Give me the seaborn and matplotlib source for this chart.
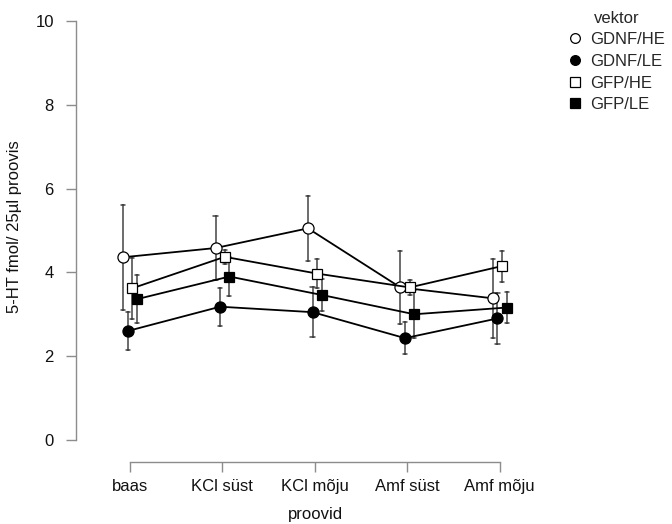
import matplotlib
matplotlib.use("Agg")
import matplotlib.pyplot as plt
from matplotlib.lines import Line2D
import seaborn as sns
import pandas as pd

proovid = ["baas", "KCl süst", "KCl mõju", "Amf süst", "Amf mõju"]
vektor = ["GDNF/HE", "GDNF/LE", "GFP/HE", "GFP/LE"]

# group means
gdnf_he = [4.36, 4.58, 5.05, 3.64, 3.38]
gdnf_le = [2.60, 3.18, 3.05, 2.43, 2.90]
gfp_he = [3.62, 4.37, 3.97, 3.64, 4.15]
gfp_le = [3.36, 3.90, 3.46, 3.00, 3.16]

# half length of the error bars
gdnf_he_err = [1.25, 0.77, 0.78, 0.88, 0.95]
gdnf_le_err = [0.46, 0.45, 0.60, 0.38, 0.60]
gfp_he_err = [0.73, 0.17, 0.35, 0.18, 0.37]
gfp_le_err = [0.57, 0.46, 0.38, 0.57, 0.38]

means = {"GDNF/HE": gdnf_he, "GDNF/LE": gdnf_le, "GFP/HE": gfp_he, "GFP/LE": gfp_le}
errs = {"GDNF/HE": gdnf_he_err, "GDNF/LE": gdnf_le_err, "GFP/HE": gfp_he_err, "GFP/LE": gfp_le_err}
filled = {"GDNF/HE": "white", "GDNF/LE": "black", "GFP/HE": "white", "GFP/LE": "black"}
shapes = {"GDNF/HE": "o", "GDNF/LE": "o", "GFP/HE": "s", "GFP/LE": "s"}

# two rows per cell (mean -/+ err) so the mean and the min-max range give the bars
rows = []
for v in vektor:
    for p, m, e in zip(proovid, means[v], errs[v]):
        rows.append({"proovid": p, "vektor": v, "val": m - e})
        rows.append({"proovid": p, "vektor": v, "val": m + e})
df = pd.DataFrame(rows)

sns.set_style("ticks")
plt.rcParams["font.family"] = ["Liberation Sans", "DejaVu Sans"]

fig = plt.figure(figsize=(6.72, 5.24), dpi=100)
ax = fig.add_axes([76 / 672, 1 - 462 / 524, 470 / 672, 447 / 524])

sns.pointplot(data=df, x="proovid", y="val", hue="vektor", order=proovid, hue_order=vektor,
              estimator="mean", errorbar=lambda s: (s.min(), s.max()),
              palette=["black"] * 4, markers=[shapes[v] for v in vektor],
              dodge=0.15, capsize=0.045, linewidth=1.3,
              err_kws={"color": "#444444", "linewidth": 1.1},
              legend=False, ax=ax)

i = 0
for ln in ax.lines:
    if ln.get_marker() in ("o", "s"):
        v = vektor[i]
        ln.set_markerfacecolor(filled[v])
        ln.set_markeredgecolor("black")
        ln.set_markeredgewidth(0.9)
        ln.set_markersize(8.0 if shapes[v] == "o" else 7.0)
        ln.set_zorder(4)
        i += 1
    else:
        ln.set_zorder(3)

ax.set_xlim(-0.584, 4.5)
ax.set_ylim(-0.525, 10.14)
ax.set_yticks([0, 2, 4, 6, 8, 10])
ax.set_xticks(range(len(proovid)))
ax.set_xticklabels(proovid)

for s in ["top", "right"]:
    ax.spines[s].set_visible(False)
ax.spines["left"].set_bounds(0, 10)
ax.spines["bottom"].set_bounds(0, 4)
for s in ["left", "bottom"]:
    ax.spines[s].set_color("#8c8c8c")
    ax.spines[s].set_linewidth(1.0)
ax.tick_params(axis="both", bottom=True, left=True, direction="out", length=7, width=1.0,
               color="#8c8c8c", labelsize=12, labelcolor="#111111")
ax.tick_params(axis="y", pad=9)
ax.tick_params(axis="x", pad=5)

ax.set_xlabel("proovid", fontsize=12, color="#111111")
ax.set_ylabel("5-HT fmol/ 25µl proovis", fontsize=12, color="#111111")
ax.xaxis.set_label_coords(0.5085, -0.10)
ax.yaxis.set_label_coords(-0.115, 0.526)

handles = [Line2D([], [], linestyle="none", marker=shapes[v], markerfacecolor=filled[v],
                  markeredgecolor="black", markersize=7 if shapes[v] == "o" else 6.5,
                  markeredgewidth=0.9) for v in vektor]
fig.legend(handles, vektor, title="vektor", loc="upper left", bbox_to_anchor=(562 / 672, 1 - 4 / 524),
           frameon=False, fontsize=12, title_fontsize=12, handlelength=0.8, handletextpad=0.5,
           labelspacing=0.4, borderaxespad=0)

fig.savefig("out.png", dpi=100)
